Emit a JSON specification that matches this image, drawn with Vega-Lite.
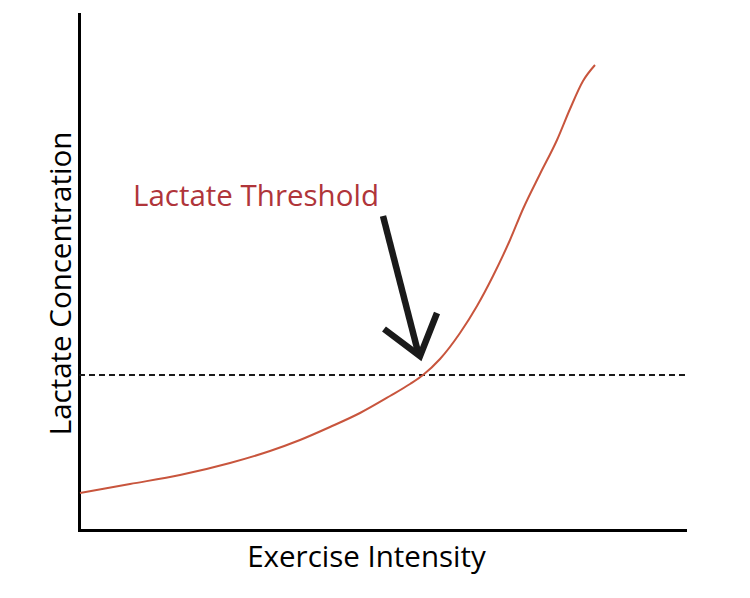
{
  "$schema": "https://vega.github.io/schema/vega-lite/v6.json",
  "width": 606,
  "height": 516,
  "autosize": {"type": "none"},
  "padding": {"left": 79, "top": 14, "right": 65, "bottom": 68},
  "background": "white",
  "config": {"view": {"stroke": null}, "font": "Open Sans"},
  "datasets": {
    "curve": [
      {"x": 1, "y": 37}, {"x": 51, "y": 46}, {"x": 101, "y": 55}, {"x": 151, "y": 67},
      {"x": 191, "y": 79}, {"x": 221, "y": 90}, {"x": 251, "y": 103}, {"x": 281, "y": 117},
      {"x": 311, "y": 134}, {"x": 331, "y": 146}, {"x": 344, "y": 155}, {"x": 361, "y": 171},
      {"x": 381, "y": 197}, {"x": 398, "y": 224}, {"x": 414, "y": 254}, {"x": 431, "y": 290},
      {"x": 444, "y": 321}, {"x": 461, "y": 356}, {"x": 478, "y": 390}, {"x": 491, "y": 421},
      {"x": 504, "y": 449}, {"x": 516, "y": 465}
    ],
    "arrow": [
      {"part": "shaft", "o": 1, "x": 304, "y": 314},
      {"part": "shaft", "o": 2, "x": 339, "y": 178},
      {"part": "head", "o": 1, "x": 305, "y": 201},
      {"part": "head", "o": 2, "x": 341, "y": 174},
      {"part": "head", "o": 3, "x": 358, "y": 217}
    ],
    "threshold": [{"y": 155}],
    "label": [{"x": 54, "y": 324, "text": "Lactate Threshold"}]
  },
  "layer": [
    {
      "data": {"name": "threshold"},
      "mark": {"type": "rule", "color": "#1a1a1a", "strokeWidth": 2, "strokeDash": [6, 4]},
      "encoding": {
        "y": {"field": "y", "type": "quantitative", "scale": {"domain": [0, 516], "nice": false}}
      }
    },
    {
      "data": {"name": "curve"},
      "mark": {"type": "line", "color": "#c8553d", "strokeWidth": 2, "interpolate": "monotone"},
      "encoding": {
        "x": {"field": "x", "type": "quantitative", "scale": {"domain": [0, 606], "nice": false},
          "axis": {"ticks": false, "labels": false, "grid": false, "domainColor": "black", "domainWidth": 3, "domainCap": "square",
            "title": "Exercise Intensity", "titleFontSize": 29.5, "titleFontWeight": "normal", "titleColor": "black",
            "titleX": 287, "titleY": 36, "titleBaseline": "alphabetic", "titleAlign": "center"}},
        "y": {"field": "y", "type": "quantitative", "scale": {"domain": [0, 516], "nice": false},
          "axis": {"ticks": false, "labels": false, "grid": false, "domainColor": "black", "domainWidth": 3, "domainCap": "square",
            "title": "Lactate Concentration", "titleFontSize": 29.5, "titleFontWeight": "normal", "titleColor": "black",
            "titleX": -9, "titleY": 269, "titleBaseline": "alphabetic", "titleAlign": "center", "titleAngle": -90}}
      }
    },
    {
      "data": {"name": "arrow"},
      "mark": {"type": "line", "color": "#1a1a1a", "strokeWidth": 6.5, "strokeJoin": "miter", "strokeCap": "butt"},
      "encoding": {
        "x": {"field": "x", "type": "quantitative"},
        "y": {"field": "y", "type": "quantitative"},
        "detail": {"field": "part"},
        "order": {"field": "o"}
      }
    },
    {
      "data": {"name": "label"},
      "mark": {"type": "text", "color": "#b0353a", "fontSize": 29.5, "align": "left", "baseline": "alphabetic"},
      "encoding": {
        "x": {"field": "x", "type": "quantitative"},
        "y": {"field": "y", "type": "quantitative"},
        "text": {"field": "text"}
      }
    }
  ]
}
